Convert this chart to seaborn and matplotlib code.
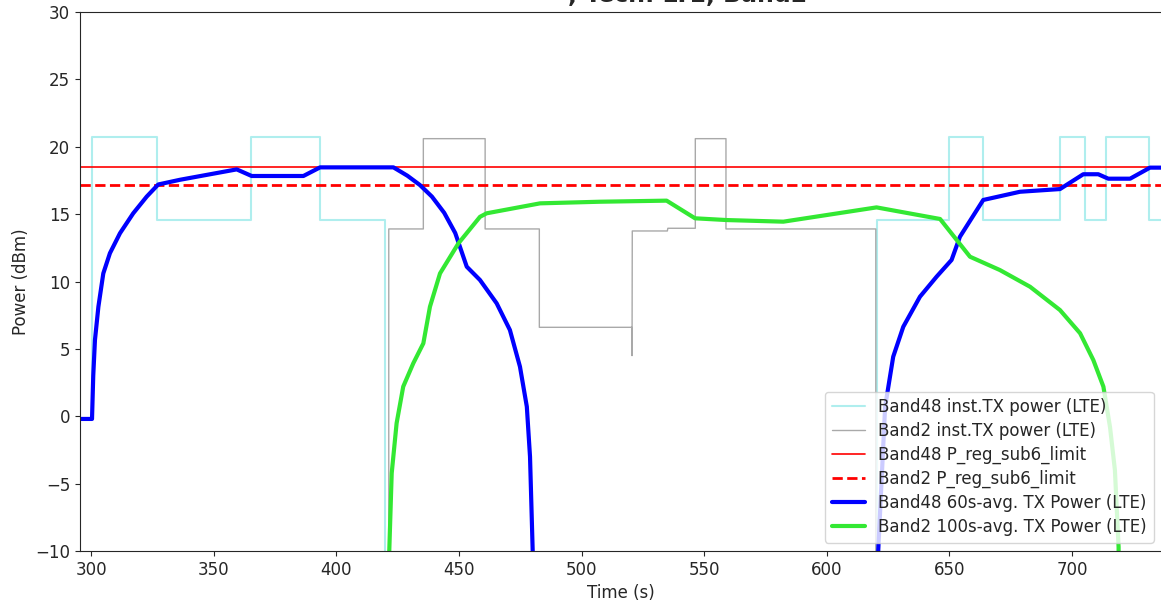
import matplotlib
matplotlib.use("Agg")
import matplotlib.pyplot as plt
import seaborn as sns

# Band48 instantaneous TX power (LTE)
b48_inst_t = [295.5, 300.4, 300.4, 327.0, 327.0, 365.3, 365.3, 393.5, 393.5, 420.0, 420.0,
              620.5, 620.5, 649.8, 649.8, 663.6, 663.6, 695.0, 695.0, 705.2, 705.2,
              713.7, 713.7, 731.4, 731.4, 740.0]
b48_inst_p = [-0.2, -0.2, 20.7, 20.7, 14.6, 14.6, 20.7, 20.7, 14.6, 14.6, -30,
              -30, 14.6, 14.6, 20.7, 20.7, 14.6, 14.6, 20.7, 20.7, 14.6,
              14.6, 20.7, 20.7, 14.6, 14.6]

# Band2 instantaneous TX power (LTE)
b2_inst_t = [295.5, 421.4, 421.4, 435.5, 435.5, 460.7, 460.7, 482.8, 482.8, 520.5,
             520.6, 520.7, 535.0, 535.2, 546.4, 546.4, 558.9, 558.9, 620.0, 620.0, 740.0]
b2_inst_p = [-30, -30, 13.9, 13.9, 20.6, 20.6, 13.9, 13.9, 6.6, 6.6,
             4.5, 13.75, 13.75, 13.95, 13.95, 20.6, 20.6, 13.9, 13.9, -30, -30]

# regulatory limits
b48_limit = 18.5
b2_limit = 17.15

# Band48 60s-avg TX power
b48_avg_t = [295.5, 300.4, 300.9, 301.6, 303.0, 305.0, 307.7, 311.8, 317.2, 322.7, 327.4,
             336.3, 359.4, 365.5, 386.6, 393.4, 423.3, 424.6, 429.0, 434.1, 439.0, 444.0,
             448.5, 453.2, 458.6, 465.4, 470.8, 474.9, 477.7, 479.0, 480.1, 480.5,
             620.8, 621.0, 623.8, 627.1, 631.2, 638.0, 644.8, 650.9, 654.3, 663.8,
             678.8, 695.1, 704.6, 710.7, 714.8, 723.7, 731.8, 740.0]
b48_avg_p = [-0.2, -0.2, 3.0, 5.66, 8.13, 10.6, 12.1, 13.58, 15.06, 16.3, 17.2,
             17.55, 18.32, 17.83, 17.83, 18.47, 18.47, 18.33, 17.85, 17.16, 16.3, 15.1,
             13.6, 11.1, 10.11, 8.38, 6.4, 3.68, 0.71, -3.0, -10.05, -30,
             -30, -9.93, 0.71, 4.42, 6.64, 8.87, 10.36, 11.6, 13.32, 16.05,
             16.66, 16.86, 17.96, 17.96, 17.63, 17.63, 18.45, 18.45]

# Band2 100s-avg TX power
b2_avg_t = [421.3, 421.6, 422.6, 424.6, 427.3, 431.4, 435.5, 438.2, 442.3, 449.8, 458.6,
            461.3, 472.2, 483.1, 507.5, 534.7, 546.3, 559.2, 582.3, 620.3, 629.9, 646.2,
            658.4, 670.6, 682.9, 695.1, 703.3, 708.7, 712.8, 715.5, 717.5, 719.0, 719.5]
b2_avg_p = [-30, -10.05, -4.23, -0.52, 2.2, 3.93, 5.41, 8.13, 10.6, 12.83, 14.8,
            15.06, 15.43, 15.8, 15.92, 16.0, 14.69, 14.56, 14.44, 15.5, 15.18, 14.64,
            11.84, 10.85, 9.61, 7.88, 6.16, 4.17, 2.2, -0.8, -4.0, -9.7, -30]

sns.set_style("ticks")
plt.rcParams["font.family"] = ["DejaVu Sans"]
plt.rcParams["font.size"] = 12

fig = plt.figure(figsize=(11.61, 6.04), dpi=100)
ax = fig.add_axes([80 / 1161, 53 / 604, 1082 / 1161, 539 / 604])

sns.lineplot(x=b48_inst_t, y=b48_inst_p, sort=False, estimator=None, ax=ax,
             color="paleturquoise", lw=1.5, label="Band48 inst.TX power (LTE)")
sns.lineplot(x=b2_inst_t, y=b2_inst_p, sort=False, estimator=None, ax=ax,
             color="darkgray", lw=1, label="Band2 inst.TX power (LTE)")
ax.axhline(b48_limit, color="red", lw=1.2, label="Band48 P_reg_sub6_limit")
ax.axhline(b2_limit, color="red", lw=2, ls="--", label="Band2 P_reg_sub6_limit")
sns.lineplot(x=b48_avg_t, y=b48_avg_p, sort=False, estimator=None, ax=ax,
             color="blue", lw=3, label="Band48 60s-avg. TX Power (LTE)")
sns.lineplot(x=b2_avg_t, y=b2_avg_p, sort=False, estimator=None, ax=ax,
             color="#33e833", lw=3, label="Band2 100s-avg. TX Power (LTE)")

ax.set_xlim(295.5, 736.7)
ax.set_ylim(-10, 30)
ax.tick_params(labelsize=12)
ax.set_xlabel("Time (s)", fontsize=12)
ax.set_ylabel("Power (dBm)", fontsize=12)
ax.legend(loc="lower right", fontsize=12, labelspacing=0.35)

# title is cut off at the top of the picture
fig.text(688 / 1161, 1 - 2 / 604, ", Tech: LTE, Band2", ha="center", va="baseline",
         fontsize=17, fontweight="bold")

plt.savefig("out.png", dpi=100)
